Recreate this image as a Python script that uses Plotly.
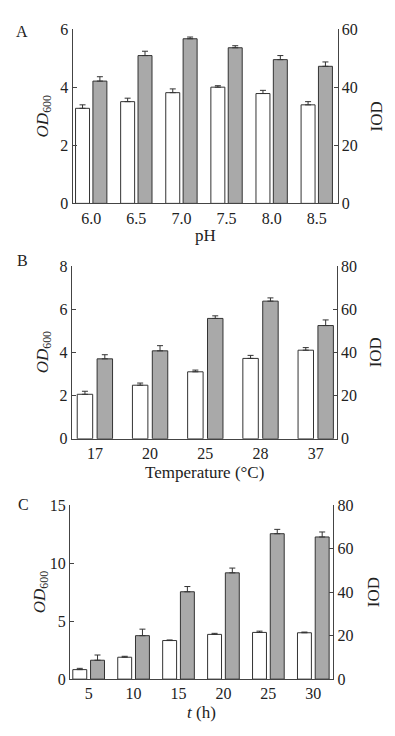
import plotly.graph_objects as go

# ---- data ----
ph_cats = ["6.0", "6.5", "7.0", "7.5", "8.0", "8.5"]
ph_od = [3.28, 3.51, 3.82, 4.01, 3.79, 3.40]
ph_od_err = [0.12, 0.12, 0.13, 0.05, 0.11, 0.11]
ph_iod = [42.2, 51.0, 56.8, 53.7, 49.6, 47.3]
ph_iod_err = [1.5, 1.5, 0.6, 0.7, 1.4, 1.5]

temp_cats = ["17", "20", "25", "28", "37"]
temp_od = [2.06, 2.48, 3.10, 3.72, 4.10]
temp_od_err = [0.14, 0.10, 0.08, 0.14, 0.12]
temp_iod = [37.0, 40.7, 55.7, 63.7, 52.4]
temp_iod_err = [1.9, 2.4, 1.2, 1.5, 2.6]

time_cats = ["5", "10", "15", "20", "25", "30"]
time_od = [0.82, 1.89, 3.33, 3.86, 4.03, 4.00]
time_od_err = [0.11, 0.08, 0.05, 0.09, 0.11, 0.06]
time_iod = [8.7, 20.0, 40.2, 48.9, 66.9, 65.4]
time_iod_err = [2.4, 3.0, 2.4, 2.2, 2.0, 2.3]

# ---- style ----
W, H = 395, 736
FONT = "Liberation Serif"
TXT = "#222222"
LINE = "#444444"
GRAY = "#a9a9a9"
OUT = "#333333"

fig = go.Figure()

def add_pair(cats, od, od_err, iod, iod_err, xa, yl, yr, bw, gap):
    fig.add_trace(go.Bar(
        x=cats, y=od, xaxis=xa, yaxis=yl,
        width=bw, offset=-(bw + gap / 2),
        marker=dict(color="white", line=dict(color=OUT, width=1)),
        error_y=dict(type="data", symmetric=False, array=od_err,
                     arrayminus=[0] * len(od), color=OUT, thickness=1, width=3),
        showlegend=False))
    fig.add_trace(go.Bar(
        x=cats, y=iod, xaxis=xa, yaxis=yr,
        width=bw, offset=gap / 2,
        marker=dict(color=GRAY, line=dict(color=OUT, width=1)),
        error_y=dict(type="data", symmetric=False, array=iod_err,
                     arrayminus=[0] * len(iod), color=OUT, thickness=1, width=3),
        showlegend=False))

add_pair(ph_cats, ph_od, ph_od_err, ph_iod, ph_iod_err, "x", "y", "y2", 0.31, 0.075)
add_pair(temp_cats, temp_od, temp_od_err, temp_iod, temp_iod_err, "x2", "y3", "y4", 0.28, 0.08)
add_pair(time_cats, time_od, time_od_err, time_iod, time_iod_err, "x3", "y5", "y6", 0.31, 0.085)

tickfont = dict(family=FONT, size=16, color=TXT)

def px_x(v):
    return v / W

def px_y(v):
    return 1 - v / H

panels = [
    ("x", "y", "y2", 72.5, 337.5, 22, 200, [-0.415, 5.46], [0, 6], [0, 2, 4, 6], [0, 60], [0, 20, 40, 60]),
    ("x2", "y3", "y4", 71.7, 336.7, 264, 441, [-0.42, 4.38], [0, 8], [0, 2, 4, 6, 8], [0, 80], [0, 20, 40, 60, 80]),
    ("x3", "y5", "y6", 70, 333.3, 509, 687, [-0.415, 5.445], [0, 15], [0, 5, 10, 15], [0, 80], [0, 20, 40, 60, 80]),
]

layout = {}
for xa, yl, yr, x0, x1, yt, yb, xr, lr, lt, rr, rt in panels:
    xk = "xaxis" + xa[1:]
    ylk = "yaxis" + yl[1:]
    yrk = "yaxis" + yr[1:]
    layout[xk] = dict(domain=[px_x(x0), px_x(x1)], anchor=yl, type="category",
                      range=xr, showline=True, linecolor=LINE, linewidth=1,
                      ticks="", showgrid=False, zeroline=False, tickfont=tickfont,
                      fixedrange=True)
    layout[ylk] = dict(domain=[px_y(yb), px_y(yt)], anchor=xa, range=lr,
                       tickvals=lt, showline=True, linecolor=LINE, linewidth=1,
                       ticks="inside", ticklen=4, tickcolor=LINE, showgrid=False,
                       zeroline=False, tickfont=tickfont)
    layout[yrk] = dict(domain=[px_y(yb), px_y(yt)], anchor=xa, overlaying=yl,
                       side="right", range=rr, tickvals=rt, showline=True,
                       linecolor=LINE, linewidth=1, ticks="inside", ticklen=4,
                       tickcolor=LINE, showgrid=False, zeroline=False,
                       tickfont=tickfont)

fig.update_layout(**layout)

annots = []
labfont = dict(family=FONT, size=17, color=TXT)
xtitles = [("pH", 233, 72.5, 337.5), ("Temperature (°C)", 475, 71.7, 336.7),
           ("<i>t</i> (h)", 721, 70, 333.3)]
for t, yy, x0, x1 in xtitles:
    annots.append(dict(text=t, x=px_x((x0 + x1) / 2), y=px_y(yy), xref="paper",
                       yref="paper", showarrow=False, font=labfont,
                       xanchor="center", yanchor="middle"))
ytitles = [(44, 111, 376), (44, 352.5, 375), (41, 598, 373)]
for xl, yc, xr in ytitles:
    annots.append(dict(text="<i>OD</i><sub>600</sub>", x=px_x(xl), y=px_y(yc),
                       xref="paper", yref="paper", showarrow=False, font=labfont,
                       textangle=-90, xanchor="center", yanchor="middle"))
    annots.append(dict(text="IOD", x=px_x(xr), y=px_y(yc), xref="paper",
                       yref="paper", showarrow=False, font=labfont,
                       textangle=-90, xanchor="center", yanchor="middle"))
letters = [("A", 22, 24), ("B", 22.3, 258), ("C", 23.3, 508)]
for t, xx, yy in letters:
    annots.append(dict(text=t, x=px_x(xx), y=px_y(yy), xref="paper", yref="paper",
                       showarrow=False, font=dict(family=FONT, size=16, color=TXT),
                       xanchor="center", yanchor="middle"))

fig.update_layout(
    width=W, height=H, margin=dict(l=0, r=0, t=0, b=0),
    paper_bgcolor="white", plot_bgcolor="white",
    barmode="overlay", annotations=annots, showlegend=False,
)

fig.write_html(
    "out.html",
    config={"displayModeBar": False},
    post_script="document.body.style.margin='0';document.body.style.overflow='hidden';",
)
